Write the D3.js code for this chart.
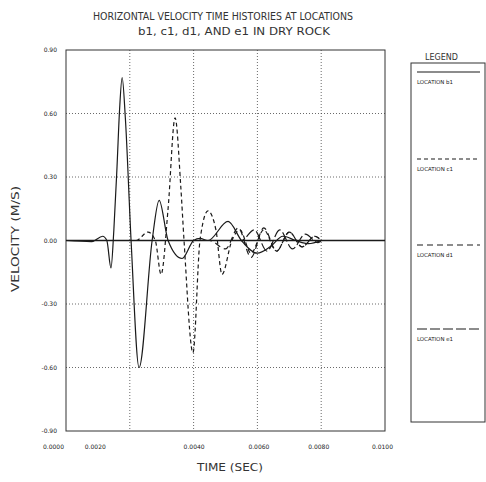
<!DOCTYPE html>
<html><head><meta charset="utf-8">
<script src="https://cdn.jsdelivr.net/npm/d3@7"></script>
<style>body{margin:0;background:#fff}svg{display:block}</style>
</head><body>
<svg id="c" width="486" height="482"></svg>
<script>
// ---- data ----
const xTicks = [0, 0.002, 0.004, 0.006, 0.008, 0.010];
const xTickLabels = ["0.0000", "0.0020", "0.0040", "0.0060", "0.0080", "0.0100"];
const yTicks = [-0.9, -0.6, -0.3, 0, 0.3, 0.6, 0.9];
const yTickLabels = ["-0.90", "-0.60", "-0.30", "0.00", "0.30", "0.60", "0.90"];
const seriesNames = ["LOCATION b1", "LOCATION c1", "LOCATION d1", "LOCATION e1"];

const timeB1 = [0, 0.0008, 0.00115, 0.00128, 0.00141, 0.00150, 0.00160, 0.00168, 0.00176, 0.00186, 0.00204, 0.00229, 0.00270, 0.00292, 0.00320, 0.00364, 0.00400, 0.00420, 0.00445, 0.00508, 0.00550, 0.00600, 0.00640, 0.00680, 0.00720, 0.00760, 0.00800];
const velB1  = [0, -0.005, 0.02, 0.0, -0.13, 0.05, 0.35, 0.62, 0.77, 0.58, 0.0, -0.60, 0.0, 0.19, 0.0, -0.085, 0.0, 0.01, 0.0, 0.09, 0.0, -0.06, -0.03, 0.02, 0.0, -0.015, 0.0];

const timeC1 = [0, 0.0022, 0.00257, 0.0028, 0.00298, 0.0032, 0.00342, 0.0036, 0.0037, 0.00398, 0.0042, 0.00445, 0.0047, 0.00489, 0.0052, 0.00545, 0.0058, 0.0062, 0.0066, 0.0070, 0.0074, 0.0078, 0.0080];
const velC1  = [0, 0.0, 0.04, 0.0, -0.16, 0.15, 0.58, 0.25, 0.0, -0.53, 0.0, 0.14, 0.05, -0.16, 0.0, 0.05, -0.06, 0.05, -0.05, 0.04, -0.03, 0.02, 0.0];

const timeD1 = [0, 0.0045, 0.0050, 0.0054, 0.0058, 0.0062, 0.0066, 0.0070, 0.0074, 0.0078, 0.0080];
const velD1  = [0, 0.0, -0.04, 0.06, -0.08, 0.06, -0.05, 0.04, -0.03, 0.02, 0.0];

const timeE1 = [0, 0.0055, 0.0059, 0.0063, 0.0067, 0.0071, 0.0075, 0.0079, 0.0080];
const velE1  = [0, 0.0, 0.05, -0.05, 0.05, -0.04, 0.03, -0.01, 0.0];

const seriesDash = [null, "4,3", "6,4", "10,3"];
const seriesData = [[timeB1, velB1], [timeC1, velC1], [timeD1, velD1], [timeE1, velE1]];

// ---- drawing ----
const svg = d3.select("#c");
const L = 66, R = 385, T = 50, B = 431;
const x = d3.scaleLinear().domain([0, 0.01]).range([L, R]);
const y = d3.scaleLinear().domain([-0.9, 0.9]).range([B, T]);
const ink = "#1a1a1a";
const font = "DejaVu Sans, sans-serif";

// title
svg.append("text").attr("x", 93).attr("y", 20).attr("font-family", font).attr("font-size", 11)
  .attr("fill", "#333").attr("textLength", 260).attr("lengthAdjust", "spacingAndGlyphs")
  .text("HORIZONTAL VELOCITY TIME HISTORIES AT LOCATIONS");
svg.append("text").attr("x", 138).attr("y", 35).attr("font-family", font).attr("font-size", 11)
  .attr("fill", "#333").attr("textLength", 192).attr("lengthAdjust", "spacingAndGlyphs")
  .text("b1, c1, d1, AND e1 IN DRY ROCK");

// grid
const g = svg.append("g");
g.selectAll("line.vg").data(xTicks.slice(1, -1)).enter().append("line")
  .attr("x1", d => x(d)).attr("x2", d => x(d)).attr("y1", T).attr("y2", B)
  .attr("stroke", "#444").attr("stroke-width", 0.8).attr("stroke-dasharray", "1,2");
g.selectAll("line.hg").data(yTicks.filter(v => v !== 0 && Math.abs(v) < 0.89)).enter().append("line")
  .attr("x1", L).attr("x2", R).attr("y1", d => y(d)).attr("y2", d => y(d))
  .attr("stroke", "#444").attr("stroke-width", 0.8).attr("stroke-dasharray", "1,2");

// frame
svg.append("rect").attr("x", L).attr("y", T).attr("width", R - L).attr("height", B - T)
  .attr("fill", "none").attr("stroke", "#333").attr("stroke-width", 1);

// zero line
svg.append("line").attr("x1", L).attr("x2", R).attr("y1", y(0)).attr("y2", y(0))
  .attr("stroke", ink).attr("stroke-width", 1.5);

// axes labels via d3 axes
const xAxis = d3.axisBottom(x).tickValues(xTicks).tickSize(0).tickPadding(0)
  .tickFormat((d, i) => xTickLabels[i]);
const xa = svg.append("g").attr("transform", `translate(0,${B + 18})`).call(xAxis);
xa.select(".domain").remove();
const xShift = [-13, -35, 0, 1, -3, -3];
xa.selectAll("text").attr("font-family", font).attr("font-size", 6).attr("fill", ink)
  .attr("dy", 0).attr("dx", (d, i) => xShift[i]);

const yAxis = d3.axisLeft(y).tickValues(yTicks).tickSize(0).tickPadding(0)
  .tickFormat((d, i) => yTickLabels[i]);
const ya = svg.append("g").attr("transform", `translate(${L - 9},0)`).call(yAxis);
ya.select(".domain").remove();
ya.selectAll("text").attr("font-family", font).attr("font-size", 6).attr("fill", ink);

svg.append("text").attr("x", 197).attr("y", 471).attr("font-family", font).attr("font-size", 10)
  .attr("fill", "#333").attr("textLength", 66).attr("lengthAdjust", "spacingAndGlyphs").text("TIME (SEC)");
svg.append("text").attr("transform", "translate(19,292) rotate(-90)").attr("font-family", font)
  .attr("font-size", 10).attr("fill", "#333").attr("textLength", 106).attr("lengthAdjust", "spacingAndGlyphs")
  .text("VELOCITY (M/S)");

// series
const line = d3.line().x(d => x(d[0])).y(d => y(d[1])).curve(d3.curveMonotoneX);
seriesData.forEach((s, i) => {
  const pts = s[0].map((t, k) => [t, s[1][k]]);
  svg.append("path").attr("d", line(pts)).attr("fill", "none").attr("stroke", ink)
    .attr("stroke-width", 1.2).attr("stroke-dasharray", seriesDash[i]);
});

// legend
svg.append("text").attr("x", 425).attr("y", 60).attr("font-family", font).attr("font-size", 8)
  .attr("fill", "#333").attr("textLength", 33).attr("lengthAdjust", "spacingAndGlyphs").text("LEGEND");
svg.append("rect").attr("x", 411).attr("y", 63).attr("width", 74).attr("height", 359)
  .attr("fill", "none").attr("stroke", "#333").attr("stroke-width", 1);
const legY = [72, 159, 245, 329];
seriesNames.forEach((n, i) => {
  svg.append("line").attr("x1", 417).attr("x2", 480).attr("y1", legY[i]).attr("y2", legY[i])
    .attr("stroke", ink).attr("stroke-width", 1.2).attr("stroke-dasharray", seriesDash[i]);
  svg.append("text").attr("x", 417).attr("y", legY[i] + 12).attr("font-family", font).attr("font-size", 5.5)
    .attr("fill", ink).attr("textLength", 36).attr("lengthAdjust", "spacingAndGlyphs").text(n);
});
</script>
</body></html>
